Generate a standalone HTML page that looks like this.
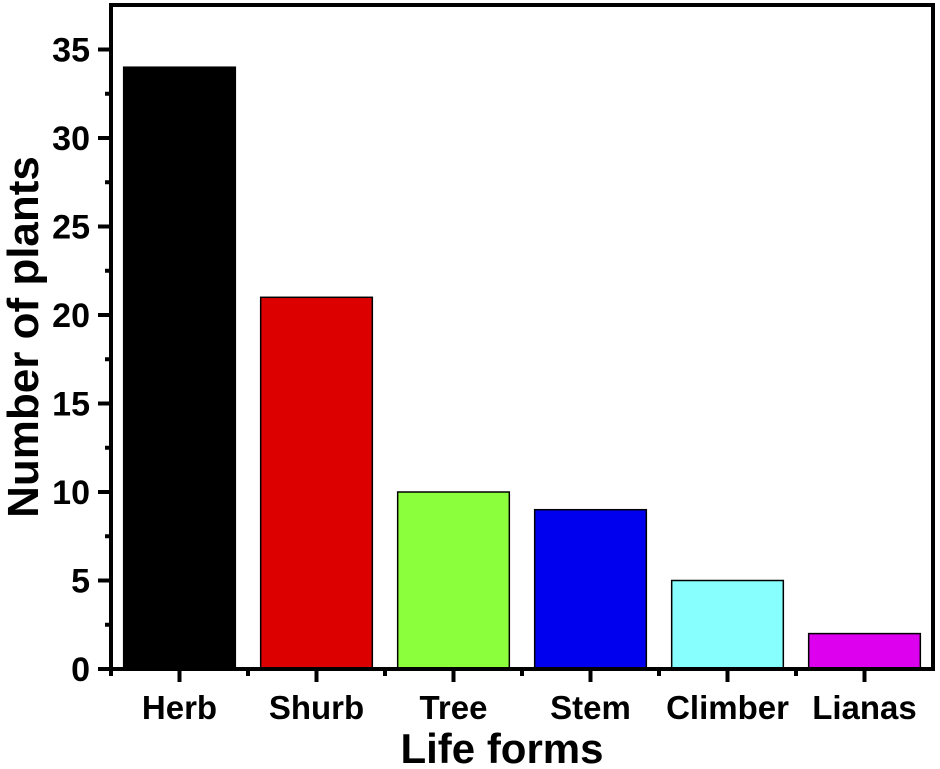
<!DOCTYPE html>
<html><head><meta charset="utf-8"><style>
html,body{margin:0;padding:0;background:#fff;}
svg{display:block;font-family:"Liberation Sans",Arial,sans-serif;font-weight:bold;}
</style></head><body>
<svg id="chart" width="940" height="769"></svg>
<script>
const categories = ["Herb","Shurb","Tree","Stem","Climber","Lianas"];
const values = [34,21,10,9,5,2];
const colors = ["#000000","#dd0000","#8cff3c","#0000ee","#88ffff","#dd00ee"];
const yTicks = [0,5,10,15,20,25,30,35];
const NS="http://www.w3.org/2000/svg";
const svg=document.getElementById('chart');
const L=111,R=933,T=5,B=669;
function y(v){return 669 - v*(669-49.5)/35;}
function x(i){return L + (i+0.5)*(R-L)/categories.length;}
function mk(tag,attrs,parent){const e=document.createElementNS(NS,tag);for(const k in attrs)e.setAttribute(k,attrs[k]);(parent||svg).appendChild(e);return e;}
const bw=(R-L)/categories.length*0.815;
values.forEach((v,i)=>{
  const r=mk('rect',{x:x(i)-bw/2,y:y(v),width:bw,height:y(0)-y(v),fill:colors[i],stroke:'#000','stroke-width':1.5});
  
  
});
const f=mk('rect',{x:L,y:T,width:R-L,height:B-T,fill:'none',stroke:'#000','stroke-width':4});


yTicks.forEach(t=>{
  const ln=mk('line',{x1:L-13,x2:L,y1:y(t),y2:y(t),stroke:'#000','stroke-width':4});
  
  
  const tx=mk('text',{x:90,y:y(t)+12,'text-anchor':'end','font-size':34});
  tx.textContent=t;
  
  
  if(t<35){const m=mk('line',{x1:L-6,x2:L,y1:y(t+2.5),y2:y(t+2.5),stroke:'#000','stroke-width':4});
  
  }
});
categories.forEach((c,i)=>{
  const ln=mk('line',{x1:x(i),x2:x(i),y1:B,y2:B+13,stroke:'#000','stroke-width':4});
  
  
  const m=mk('line',{x1:x(i)-(R-L)/12,x2:x(i)-(R-L)/12,y1:B,y2:B+7,stroke:'#000','stroke-width':4});
  
  
  const tx=mk('text',{x:x(i),y:719,'text-anchor':'middle','font-size':33});
  tx.textContent=c;
  
  
});
const xt=mk('text',{x:502,y:763,'text-anchor':'middle','font-size':42});
xt.textContent='Life forms';


const yt=mk('text',{x:0,y:0,'text-anchor':'middle','font-size':44,transform:'translate(38,337) rotate(-90)'});
yt.textContent='Number of plants';


</script>
</body></html>
